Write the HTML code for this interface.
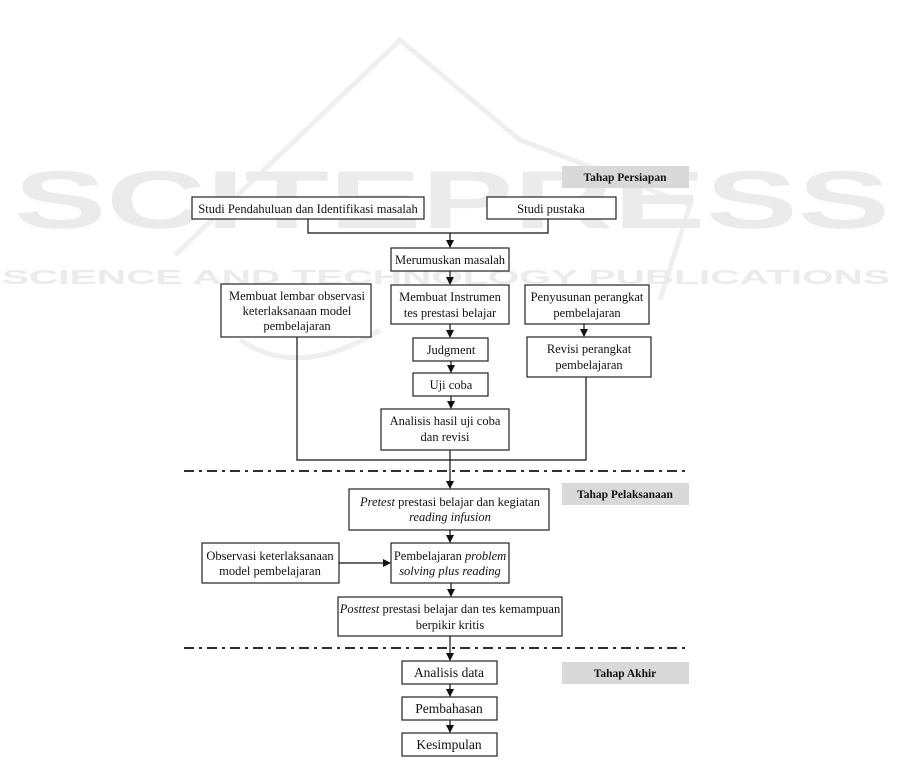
<!DOCTYPE html>
<html><head><meta charset="utf-8"><style>
html,body{margin:0;padding:0;background:#fff;}
svg{display:block;}
text{font-family:"Liberation Serif",serif;font-size:12.5px;fill:#111;}
.b{fill:#fff;stroke:#222;stroke-width:1.2;}
.l{stroke:#111;stroke-width:1.2;fill:none;}
.d{stroke:#111;stroke-width:1.8;fill:none;stroke-dasharray:10,5,3,5;}
.t{fill:#d9d9d9;}
.h{font-weight:bold;font-size:11.5px;}
</style></head><body>
<svg width="901" height="774" viewBox="0 0 901 774" xmlns="http://www.w3.org/2000/svg">
<defs><marker id="a" markerWidth="8" markerHeight="8" refX="7" refY="4" orient="auto" markerUnits="userSpaceOnUse"><path d="M0,0 L8,4 L0,8 z" fill="#111"/></marker></defs>
<!-- watermark -->
<path d="M175,255 L400,40 L520,140 L690,205 L660,300" stroke="#efefef" stroke-width="5" fill="none"/>
<path d="M240,340 Q300,380 380,330" stroke="#efefef" stroke-width="5" fill="none"/>
<text x="14" y="228" style="font-family:'Liberation Sans',sans-serif;font-weight:bold;font-size:82px;fill:#ebebeb" textLength="876" lengthAdjust="spacingAndGlyphs">SCITEPRESS</text>
<text x="2" y="284" style="font-family:'Liberation Sans',sans-serif;font-weight:bold;font-size:20px;fill:#ebebeb" textLength="888" lengthAdjust="spacingAndGlyphs">SCIENCE AND TECHNOLOGY PUBLICATIONS</text>

<!-- tags -->
<rect class="t" x="562" y="166" width="127" height="22"/><text class="h" x="625" y="181" text-anchor="middle">Tahap Persiapan</text>
<rect class="t" x="562" y="483" width="127" height="22"/><text class="h" x="625" y="498" text-anchor="middle">Tahap Pelaksanaan</text>
<rect class="t" x="562" y="662" width="127" height="22"/><text class="h" x="625" y="677" text-anchor="middle">Tahap Akhir</text>

<!-- connectors -->
<path class="l" d="M308,219 V233 H548 V219"/>
<path class="l" d="M450,233 V247" marker-end="url(#a)"/>
<path class="l" d="M450,271 V284" marker-end="url(#a)"/>
<path class="l" d="M450,324 V337" marker-end="url(#a)"/>
<path class="l" d="M584,324 V336" marker-end="url(#a)"/>
<path class="l" d="M451,361 V372" marker-end="url(#a)"/>
<path class="l" d="M451,396 V408" marker-end="url(#a)"/>
<path class="l" d="M297,337 V460 H586 V377"/>
<path class="l" d="M450,450 V488" marker-end="url(#a)"/>
<path class="l" d="M450,530 V542" marker-end="url(#a)"/>
<path class="l" d="M339,563 V563 H390" marker-end="url(#a)"/>
<path class="l" d="M451,583 V596" marker-end="url(#a)"/>
<path class="l" d="M450,636 V660" marker-end="url(#a)"/>
<path class="l" d="M450,684 V696" marker-end="url(#a)"/>
<path class="l" d="M450,720 V732" marker-end="url(#a)"/>
<path class="d" d="M184,471 H688"/>
<path class="d" d="M184,648 H688"/>

<!-- boxes -->
<rect class="b" x="192" y="197" width="232" height="22"/><text x="308" y="213" text-anchor="middle">Studi Pendahuluan dan Identifikasi masalah</text>
<rect class="b" x="487" y="197" width="129" height="22"/><text x="551" y="213" text-anchor="middle">Studi pustaka</text>
<rect class="b" x="391" y="248" width="118" height="23"/><text x="450" y="264" text-anchor="middle">Merumuskan masalah</text>
<rect class="b" x="221" y="284" width="150" height="53"/><text x="297" y="300" text-anchor="middle">Membuat lembar observasi</text><text x="297" y="315" text-anchor="middle">keterlaksanaan model</text><text x="297" y="330" text-anchor="middle">pembelajaran</text>
<rect class="b" x="391" y="285" width="118" height="39"/><text x="450" y="301" text-anchor="middle">Membuat Instrumen</text><text x="450" y="317" text-anchor="middle">tes prestasi belajar</text>
<rect class="b" x="525" y="285" width="124" height="39"/><text x="587" y="301" text-anchor="middle">Penyusunan perangkat</text><text x="587" y="317" text-anchor="middle">pembelajaran</text>
<rect class="b" x="413" y="338" width="75" height="23"/><text x="451" y="354" text-anchor="middle">Judgment</text>
<rect class="b" x="527" y="337" width="124" height="40"/><text x="589" y="353" text-anchor="middle">Revisi perangkat</text><text x="589" y="369" text-anchor="middle">pembelajaran</text>
<rect class="b" x="413" y="373" width="75" height="23"/><text x="451" y="389" text-anchor="middle">Uji coba</text>
<rect class="b" x="381" y="409" width="128" height="41"/><text x="445" y="425" text-anchor="middle">Analisis hasil uji coba</text><text x="445" y="441" text-anchor="middle">dan revisi</text>
<rect class="b" x="349" y="489" width="200" height="41"/><text x="450" y="506" text-anchor="middle"><tspan font-style="italic">Pretest</tspan> prestasi belajar dan kegiatan</text><text x="450" y="521" text-anchor="middle" font-style="italic">reading infusion</text>
<rect class="b" x="202" y="543" width="137" height="40"/><text x="270" y="560" text-anchor="middle">Observasi keterlaksanaan</text><text x="270" y="575" text-anchor="middle">model pembelajaran</text>
<rect class="b" x="391" y="543" width="118" height="40"/><text x="450" y="560" text-anchor="middle">Pembelajaran <tspan font-style="italic">problem</tspan></text><text x="450" y="575" text-anchor="middle" font-style="italic">solving plus reading</text>
<rect class="b" x="338" y="597" width="224" height="39"/><text x="450" y="613" text-anchor="middle"><tspan font-style="italic">Posttest</tspan> prestasi belajar dan tes kemampuan</text><text x="450" y="629" text-anchor="middle">berpikir kritis</text>
<rect class="b" x="402" y="661" width="95" height="23"/><text x="449" y="677" text-anchor="middle" style="font-size:13.5px">Analisis data</text>
<rect class="b" x="402" y="697" width="95" height="23"/><text x="449" y="713" text-anchor="middle" style="font-size:13.5px">Pembahasan</text>
<rect class="b" x="402" y="733" width="95" height="23"/><text x="449" y="749" text-anchor="middle" style="font-size:13.5px">Kesimpulan</text>
</svg>
</body></html>
